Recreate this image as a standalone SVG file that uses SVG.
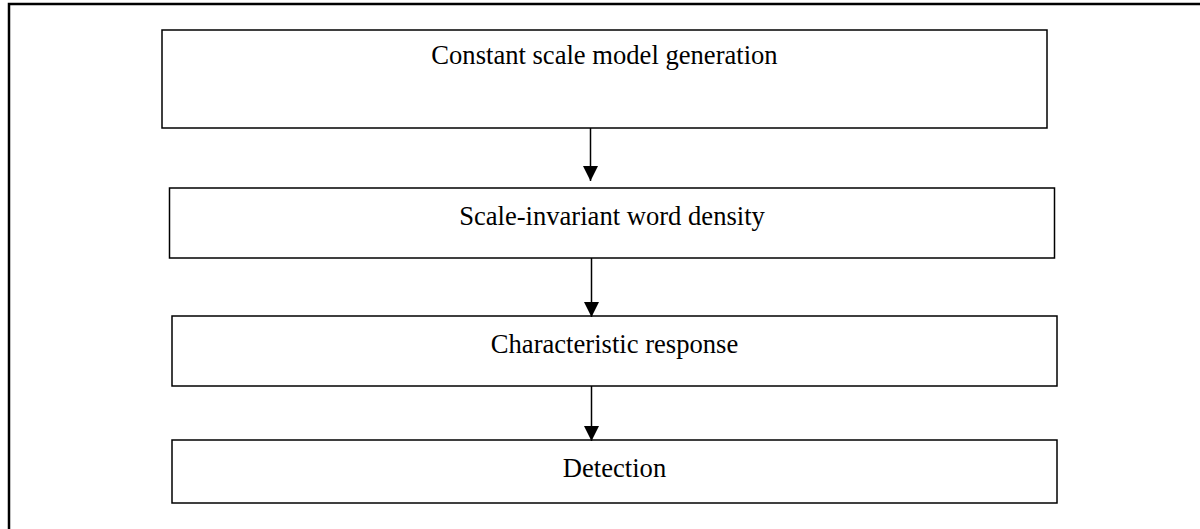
<svg xmlns="http://www.w3.org/2000/svg" width="1200" height="529" viewBox="0 0 1200 529">
<style>
.box{fill:#fff;stroke:#000;stroke-width:1.5}
.lbl{font-family:"Liberation Serif","Times New Roman",serif;font-size:26.6px;fill:#000;text-anchor:middle}
.conn{stroke:#000;stroke-width:1.5;fill:none}
</style>
<defs>
<marker id="ah" markerUnits="userSpaceOnUse" markerWidth="16" markerHeight="16" refX="15" refY="7.5" orient="auto" viewBox="0 0 16 15">
<path d="M0,0 L15,7.5 L0,15 Z" fill="#000"/>
</marker>
</defs>
<rect width="1200" height="529" fill="#fff"/>
<g id="frame">
<path d="M1200,4 H9 V529" fill="none" stroke="#000" stroke-width="2.5"/>
</g>
<g id="node1">
<rect class="box" x="162" y="30" width="885" height="98"/>
<text class="lbl" x="604.5" y="64">Constant scale model generation</text>
</g>
<g id="node2">
<rect class="box" x="169.5" y="188" width="885" height="70"/>
<text class="lbl" x="612" y="225">Scale-invariant word density</text>
</g>
<g id="node3">
<rect class="box" x="172" y="316" width="885" height="70"/>
<text class="lbl" x="614.5" y="353">Characteristic response</text>
</g>
<g id="node4">
<rect class="box" x="172" y="440" width="885" height="63"/>
<text class="lbl" x="614.5" y="477">Detection</text>
</g>
<g id="connectors">
<line class="conn" x1="590.5" y1="128" x2="590.5" y2="181" marker-end="url(#ah)"/>
<line class="conn" x1="591.5" y1="258" x2="591.5" y2="317" marker-end="url(#ah)"/>
<line class="conn" x1="591.5" y1="386" x2="591.5" y2="441" marker-end="url(#ah)"/>
</g>
</svg>
